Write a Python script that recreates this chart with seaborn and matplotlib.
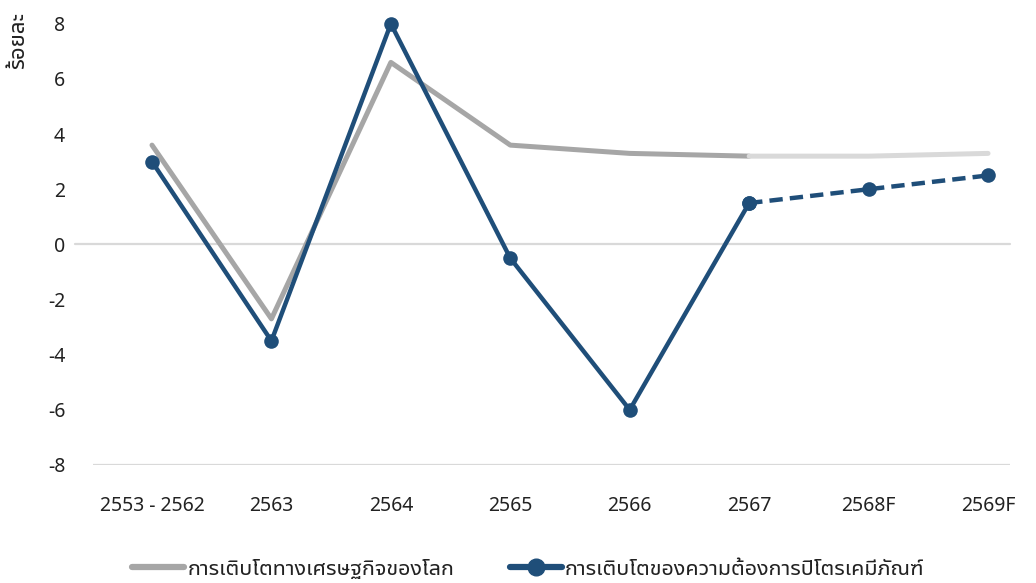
import matplotlib
matplotlib.use("Agg")
import matplotlib.pyplot as plt
import seaborn as sns
import pandas as pd
from matplotlib.lines import Line2D

categories = ['2553 - 2562', '2563', '2564', '2565', '2566', '2567', '2568F', '2569F']
gdp_growth = [3.6, -2.7, 6.6, 3.6, 3.3, 3.2, 3.2, 3.3]
petro_growth = [3.0, -3.5, 8.0, -0.5, -6.0, 1.5, 2.0, 2.5]
n_actual = 6  # actual data through 2567; forecast afterwards
y_ticks = [-8, -6, -4, -2, 0, 2, 4, 6, 8]
y_label = 'ร้อยละ'
label_gdp = 'การเติบโตทางเศรษฐกิจของโลก'
label_petro = 'การเติบโตของความต้องการปิโตรเคมีภัณฑ์'

sns.set_theme(style='white')
FAM = ['Noto Sans Thai UI', 'Noto Sans', 'DejaVu Sans']
plt.rcParams['font.family'] = FAM

GRAY = '#a6a6a6'
LGRAY = '#d9d9d9'
BLUE = '#1f4e79'

df = pd.DataFrame({'x': range(len(categories)), 'gdp': gdp_growth, 'petro': petro_growth})
act = df.iloc[:n_actual]
fc = df.iloc[n_actual - 1:]

fig = plt.figure(figsize=(10.36, 5.83), dpi=100)
ax = fig.add_axes([93 / 1036, 118 / 583, (1010 - 93) / 1036, (465 - 10) / 583])

ax.axhline(0, xmin=-0.02, xmax=1.0, color=LGRAY, lw=1.6, clip_on=False, zorder=1)
ax.axhline(-8, color=LGRAY, lw=1.6, zorder=1)

sns.lineplot(data=act, x='x', y='gdp', ax=ax, color=GRAY, lw=3.6, zorder=2,
             solid_capstyle='round')
sns.lineplot(data=fc, x='x', y='gdp', ax=ax, color=LGRAY, lw=3.6, zorder=2,
             solid_capstyle='round')
sns.lineplot(data=act, x='x', y='petro', ax=ax, color=BLUE, lw=3.2, zorder=3,
             marker='o', markersize=10.5, markeredgewidth=0, clip_on=False)
sns.lineplot(data=fc, x='x', y='petro', ax=ax, color=BLUE, lw=3.2, zorder=3,
             marker='o', markersize=10.5, markeredgewidth=0, dashes=False,
             linestyle=(0, (3, 1.6)), clip_on=False)

ax.set_xlim(-0.494, 7.184)
ax.set_ylim(-8, 8.5)
ax.set_xticks(range(len(categories)))
ax.set_xticklabels(categories)
ax.set_yticks(y_ticks)
ax.set_yticklabels([str(v) for v in y_ticks])
ax.set_xlabel('')
ax.set_ylabel('')
ax.tick_params(axis='x', length=0, pad=22, labelsize=14, labelcolor='#222222')
ax.tick_params(axis='y', length=0, pad=20, labelsize=14, labelcolor='#222222')
for lbl in ax.get_xticklabels() + ax.get_yticklabels():
    lbl.set_family(FAM)
for s in ax.spines.values():
    s.set_visible(False)
ax.grid(False)

fig.text(19 / 1036, 1 - 12 / 583, y_label, rotation=90, ha='center', va='top',
         fontsize=16, color='#222222', family=FAM)

handles = [
    Line2D([0], [0], color=GRAY, lw=4.5),
    Line2D([0], [0], color=BLUE, lw=4.5, marker='o', markersize=12),
]
fig.legend(handles, [label_gdp, label_petro], loc='lower center',
           bbox_to_anchor=(0.51, -0.028), ncol=2, frameon=False,
           handlelength=2.4, handletextpad=0.15, columnspacing=2.6,
           labelcolor='#222222', prop={'family': FAM, 'size': 15.5})

fig.savefig('out.png', dpi=100)
